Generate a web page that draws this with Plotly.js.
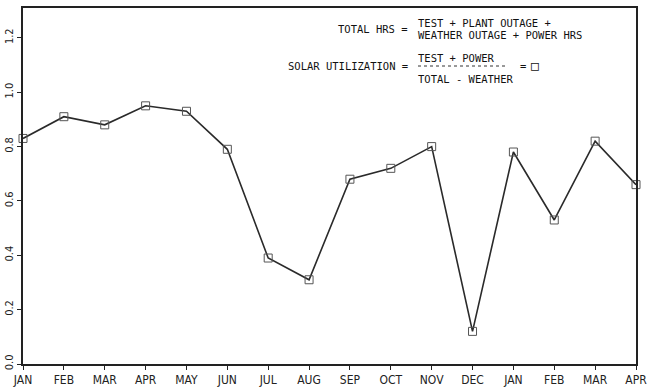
<!DOCTYPE html>
<html>
<head>
<meta charset="utf-8">
<script src="https://cdn.plot.ly/plotly-3.0.1.min.js"></script>
<style>html,body{margin:0;padding:0;background:#fff;}#chart{width:648px;height:389px;}</style>
</head>
<body>
<div id="chart"></div>
<script>
const months = ["JAN","FEB","MAR","APR","MAY","JUN","JUL","AUG","SEP","OCT","NOV","DEC","JAN","FEB","MAR","APR"];
const monthIndex = [0,1,2,3,4,5,6,7,8,9,10,11,12,13,14,15];
const solarUtilization = [0.83,0.91,0.88,0.95,0.93,0.79,0.39,0.31,0.68,0.72,0.80,0.12,0.78,0.53,0.82,0.66];
const yTicks = [0.0,0.2,0.4,0.6,0.8,1.0,1.2];
const yTickText = ["0.0","0.2","0.4","0.6","0.8","1.0","1.2"];

const L = 23, R = 12, T = 8, B = 25, W = 648, H = 389;
const pw = W - L - R, ph = H - T - B;
const px = x => (x - L) / pw;
const py = y => (H - B - y) / ph;
const fnt = {family: "DejaVu Sans Mono, Liberation Mono, monospace", size: 10.5, color: "#111"};

const trace = {
  x: monthIndex, y: solarUtilization, type: "scatter", mode: "lines+markers",
  line: {color: "#2a2a2a", width: 1.6},
  marker: {symbol: "square-open", size: 8, color: "#555", line: {width: 1}},
  cliponaxis: false
};

const ann = (x, y, text, xanchor, size) => ({xref: "paper", yref: "paper", x: px(x), y: py(y), text: text,
  showarrow: false, xanchor: xanchor || "left", yanchor: "middle",
  font: Object.assign({}, fnt, size ? {size: size} : {})});

const layout = {
  width: W, height: H,
  margin: {l: L, r: R, t: T, b: B},
  paper_bgcolor: "#fff", plot_bgcolor: "#fff",
  showlegend: false,
  xaxis: {
    range: [0, 15], tickvals: monthIndex, ticktext: months,
    showgrid: false, zeroline: false, showline: true, linecolor: "#222", linewidth: 2, mirror: true,
    ticks: "outside", ticklen: 4, tickcolor: "#222",
    tickfont: {family: "Liberation Sans Narrow, DejaVu Sans Condensed, sans-serif", size: 12, color: "#222"}
  },
  yaxis: {
    range: [0, 1.31], tickvals: yTicks, ticktext: yTickText, tickangle: -90,
    showgrid: false, zeroline: false, showline: true, linecolor: "#222", linewidth: 2, mirror: true,
    ticks: "outside", ticklen: 4, tickcolor: "#222",
    tickfont: {family: "Liberation Sans Narrow, DejaVu Sans Condensed, sans-serif", size: 11, color: "#222"}
  },
  annotations: [
    ann(410, 29, "TOTAL HRS =", "right"),
    ann(416, 23, "TEST + PLANT OUTAGE +"),
    ann(416, 35, "WEATHER OUTAGE + POWER HRS"),
    ann(410, 66, "SOLAR UTILIZATION =", "right"),
    ann(416, 58, "TEST + POWER"),
    ann(416, 79, "TOTAL - WEATHER"),
    ann(518, 66, "="),
    ann(529, 66, "□", "left", 13)
  ],
  shapes: [
    {type: "line", xref: "paper", yref: "paper", x0: px(418), x1: px(508), y0: py(66), y1: py(66),
     line: {color: "#333", width: 1, dash: "dot"}}
  ]
};

Plotly.newPlot("chart", [trace], layout, {displayModeBar: false, staticPlot: true});
</script>
</body>
</html>
